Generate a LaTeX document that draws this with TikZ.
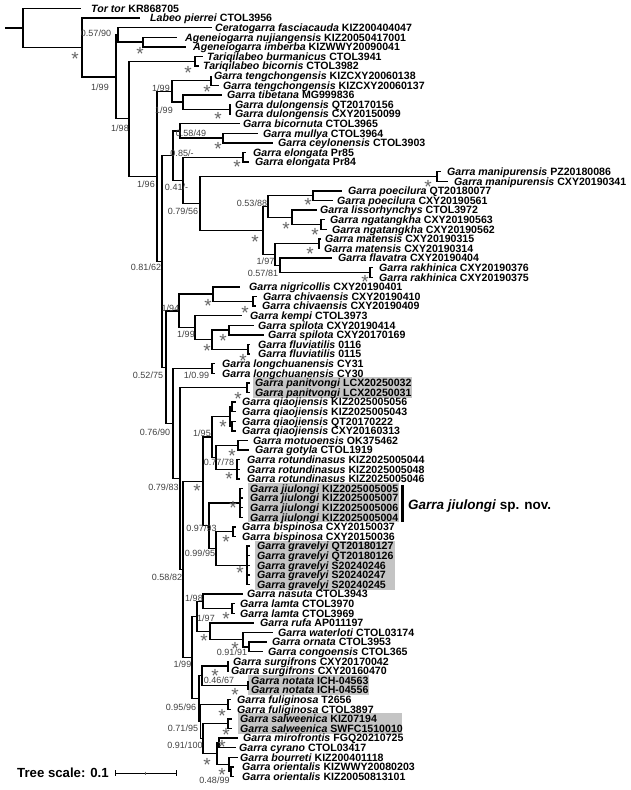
\documentclass[tikz,border=0pt]{standalone}
\usepackage{fontspec}
\setmainfont{Liberation Sans}
\begin{document}
\begin{tikzpicture}[x=1pt,y=-1pt,
  brs/.style={line width=1.3pt, line join=miter},
  lab/.style={anchor=base west, inner sep=0, font=\fontsize{10.6}{12}\selectfont\bfseries, yshift=-3.8pt},
  sup/.style={anchor=base, inner sep=0, font=\fontsize{9}{10}\selectfont, text=black!75, yshift=-3.2pt},
  astn/.style={anchor=base, inner sep=0, font=\fontsize{19}{19}\selectfont, text=black!60, yshift=-10.5pt},
  shade/.style={fill=black!23, draw=none}]
\useasboundingbox (0,0) rectangle (630,790);
% shaded boxes
\fill[shade] (253,377.4) rectangle (412,397.5);
\fill[shade] (248,483) rectangle (399,522.3);
\fill[shade] (255,540.6) rectangle (395,589.5);
\fill[shade] (248,675) rectangle (369,695);
\fill[shade] (238,713.4) rectangle (402,733.5);
% internal node coordinates
\coordinate (R0) at (5,28);
\coordinate (R) at (23,28);
\coordinate (N1) at (82,47.5);
\coordinate (N2) at (116,76.85);
\coordinate (CA) at (118,34.9);
\coordinate (AG) at (143,42.1);
\coordinate (N3) at (129,118.8);
\coordinate (TQ) at (195,61.3);
\coordinate (N4) at (157,176.35);
\coordinate (N5) at (172,91.3);
\coordinate (TC) at (211,80.5);
\coordinate (TD) at (183,102.1);
\coordinate (DU) at (230,109.3);
\coordinate (N6) at (162,261.4);
\coordinate (N7) at (173,155.65);
\coordinate (A) at (180,130.9);
\coordinate (MCa) at (223,138.1);
\coordinate (E) at (183,180.4);
\coordinate (EL) at (243,157.3);
\coordinate (B) at (200,203.5);
\coordinate (MP) at (437,176.5);
\coordinate (C) at (263,230.5);
\coordinate (P) at (268,206.5);
\coordinate (PO) at (313,195.7);
\coordinate (L) at (292,217.3);
\coordinate (NG) at (321,224.5);
\coordinate (M) at (275,254.5);
\coordinate (MA) at (319,243.7);
\coordinate (RR) at (280,265.3);
\coordinate (RK) at (370,272.5);
\coordinate (N8) at (166,367.2);
\coordinate (Q) at (179,310.9);
\coordinate (NC) at (213,294.1);
\coordinate (CH) at (253,301.3);
\coordinate (K) at (195,327.7);
\coordinate (SF) at (212,339.7);
\coordinate (SP) at (229,330.1);
\coordinate (FL) at (248,349.3);
\coordinate (N9) at (173,423.5);
\coordinate (LC) at (212,368.5);
\coordinate (N10) at (180,478.55);
\coordinate (PA) at (247,387.7);
\coordinate (N11) at (183,569.4);
\coordinate (J) at (203,481.3);
\coordinate (J1) at (212,436.9);
\coordinate (QJ) at (230,416.5);
\coordinate (QJa) at (232,406.9);
\coordinate (QJb) at (232,426.1);
\coordinate (MGR) at (216,457.3);
\coordinate (MG) at (238,445.3);
\coordinate (RT) at (237,469.3);
\coordinate (J2) at (209,525.7);
\coordinate (JL) at (240,502.9);
\coordinate (BG) at (216,548.5);
\coordinate (BS) at (233,531.7);
\coordinate (GR) at (247,565.3);
\coordinate (Y) at (192,657.5);
\coordinate (X) at (197,616.3);
\coordinate (NL) at (203,601.3);
\coordinate (LA) at (232,608.5);
\coordinate (RW) at (210,631.3);
\coordinate (WOC) at (243,639.7);
\coordinate (OC) at (249,646.9);
\coordinate (Z) at (199,698.65);
\coordinate (SN) at (202,675.7);
\coordinate (SU) at (228,666.1);
\coordinate (NO) at (248,685.3);
\coordinate (L2) at (200.5,721.6);
\coordinate (FU) at (228,704.5);
\coordinate (SM) at (203,738.7);
\coordinate (SW) at (228,723.7);
\coordinate (MB) at (217,753.7);
\coordinate (MCb) at (219,742.9);
\coordinate (BO) at (229,764.5);
\coordinate (OR) at (231,771.7);
% tips: name/end x/y/label x/genus-species/code
\foreach \n/\ex/\yy/\lx/\sp/\cd in {
 t1/81/8.5/91/Tor tor/KR868705,
 t2/140/18.1/150/Labeo pierrei/CTOL3956,
 t3/212/27.7/215/Ceratogarra fasciacauda/KIZ200404047,
 t4/177/37.3/185/Ageneiogarra nujiangensis/KIZ20050417001,
 t5/186/46.9/193/Ageneiogarra imberba/KIZWWY20090041,
 t6/203/56.5/207/Tariqilabeo burmanicus/CTOL3941,
 t7/199/66.1/203/Tariqilabeo bicornis/CTOL3982,
 t8/211/75.7/214/Garra tengchongensis/KIZCXY20060138,
 t9/219/85.3/223/Garra tengchongensis/KIZCXY20060137,
 t10/222/94.9/227/Garra tibetana/MG999836,
 t11/231/104.5/235/Garra dulongensis/QT20170156,
 t12/231/114.1/235/Garra dulongensis/CXY20150099,
 t13/240/123.7/243/Garra bicornuta/CTOL3965,
 t14/258/133.3/263/Garra mullya/CTOL3964,
 t15/273/142.9/278/Garra ceylonensis/CTOL3903,
 t16/246/152.5/253/Garra elongata/Pr85,
 t17/249/162.1/255/Garra elongata/Pr84,
 t18/441/171.7/447/Garra manipurensis/PZ20180086,
 t19/448/181.3/454/Garra manipurensis/CXY20190341,
 t20/342/190.9/348/Garra poecilura/QT20180077,
 t21/333/200.5/337/Garra poecilura/CXY20190561,
 t22/317/210.1/320/Garra lissorhynchys/CTOL3972,
 t23/325/219.7/330/Garra ngatangkha/CXY20190563,
 t24/327/229.3/332/Garra ngatangkha/CXY20190562,
 t25/321/238.9/325/Garra matensis/CXY20190315,
 t26/320/248.5/324/Garra matensis/CXY20190314,
 t27/332/258.1/338/Garra flavatra/CXY20190404,
 t28/373/267.7/379/Garra rakhinica/CXY20190376,
 t29/373/277.3/379/Garra rakhinica/CXY20190375,
 t30/240/286.9/249/Garra nigricollis/CXY20190401,
 t31/257/296.5/263/Garra chivaensis/CXY20190410,
 t32/256/306.1/262/Garra chivaensis/CXY20190409,
 t33/242/315.7/250/Garra kempi/CTOL3973,
 t34/254/325.3/258/Garra spilota/CXY20190414,
 t35/264/334.9/268/Garra spilota/CXY20170169,
 t36/250/344.5/258/Garra fluviatilis/0116,
 t37/250/354.1/258/Garra fluviatilis/0115,
 t38/215/363.7/222/Garra longchuanensis/CY31,
 t39/215/373.3/222/Garra longchuanensis/CY30,
 t40/250/382.9/255/Garra panitvongi/LCX20250032,
 t41/250/392.5/255/Garra panitvongi/LCX20250031,
 t42/236/402.1/242/Garra qiaojiensis/KIZ2025005056,
 t43/236/411.7/242/Garra qiaojiensis/KIZ2025005043,
 t44/236/421.3/242/Garra qiaojiensis/QT20170222,
 t45/236/430.9/242/Garra qiaojiensis/CXY20160313,
 t46/248/440.5/253/Garra motuoensis/OK375462,
 t47/249/450.1/255/Garra gotyla/CTOL1919,
 t48/240/459.7/247/Garra rotundinasus/KIZ2025005044,
 t49/240/469.3/247/Garra rotundinasus/KIZ2025005048,
 t50/240/478.9/247/Garra rotundinasus/KIZ2025005046,
 t51/243/488.5/250/Garra jiulongi/KIZ2025005005,
 t52/243/498.1/250/Garra jiulongi/KIZ2025005007,
 t53/243/507.7/250/Garra jiulongi/KIZ2025005006,
 t54/243/517.3/250/Garra jiulongi/KIZ2025005004,
 t55/236/526.9/242/Garra bispinosa/CXY20150037,
 t56/236/536.5/242/Garra bispinosa/CXY20150036,
 t57/250/546.1/257/Garra gravelyi/QT20180127,
 t58/250/555.7/257/Garra gravelyi/QT20180126,
 t59/250/565.3/257/Garra gravelyi/S20240246,
 t60/250/574.9/257/Garra gravelyi/S20240247,
 t61/250/584.5/257/Garra gravelyi/S20240245,
 t62/243/594.1/247/Garra nasuta/CTOL3943,
 t63/235/603.7/240/Garra lamta/CTOL3970,
 t64/235/613.3/240/Garra lamta/CTOL3969,
 t65/254/622.9/260/Garra rufa/AP011197,
 t66/273/632.5/278/Garra waterloti/CTOL03174,
 t67/267/642.1/272/Garra ornata/CTOL3953,
 t68/263/651.7/268/Garra congoensis/CTOL365,
 t69/229/661.3/233/Garra surgifrons/CXY20170042,
 t70/228.5/670.9/231/Garra surgifrons/CXY20160470,
 t71/248/680.5/251/Garra notata/ICH-04563,
 t72/248/690.1/251/Garra notata/ICH-04556,
 t73/231/699.7/237/Garra fuliginosa/T2656,
 t74/231/709.3/237/Garra fuliginosa/CTOL3897,
 t75/232/718.9/240/Garra salweenica/KIZ07194,
 t76/232/728.5/240/Garra salweenica/SWFC1510010,
 t77/238/738.1/243/Garra mirofrontis/FGQ20210725,
 t78/236/747.7/239/Garra cyrano/CTOL03417,
 t79/238/757.3/240/Garra bourreti/KIZ200401118,
 t80/234/766.9/242/Garra orientalis/KIZWWY20080203,
 t81/234/776.5/242/Garra orientalis/KIZ20050813101}
{
 \coordinate (\n) at (\ex,\yy);
 \node[lab] (l\n) at (\lx,\yy) {\textit{\sp} \cd};
}
% branches
\draw[brs] (R0) -- (R);
\foreach \p/\c in {R/t1,R/N1,N1/t2,N1/N2,N2/CA,N2/N3,CA/t3,CA/AG,AG/t4,AG/t5,
 N3/TQ,N3/N4,TQ/t6,TQ/t7,N4/N5,N4/N6,N5/TC,N5/TD,TC/t8,TC/t9,TD/t10,TD/DU,DU/t11,DU/t12,
 N6/N7,N6/N8,N7/A,N7/E,A/t13,A/MCa,MCa/t14,MCa/t15,E/EL,E/B,EL/t16,EL/t17,B/MP,B/C,
 MP/t18,MP/t19,C/P,C/M,P/PO,P/L,PO/t20,PO/t21,L/t22,L/NG,NG/t23,NG/t24,M/MA,M/RR,
 MA/t25,MA/t26,RR/t27,RR/RK,RK/t28,RK/t29,N8/Q,N8/N9,Q/NC,Q/K,NC/t30,NC/CH,CH/t31,CH/t32,
 K/t33,K/SF,SF/SP,SF/FL,SP/t34,SP/t35,FL/t36,FL/t37,N9/LC,N9/N10,LC/t38,LC/t39,
 N10/PA,N10/N11,PA/t40,PA/t41,N11/J,N11/Y,J/J1,J/J2,J1/QJ,J1/MGR,QJ/QJa,QJ/QJb,
 QJa/t42,QJa/t43,QJb/t44,QJb/t45,MGR/MG,MGR/RT,MG/t46,MG/t47,RT/t48,RT/t49,RT/t50,
 J2/JL,J2/BG,JL/t51,JL/t52,JL/t53,JL/t54,BG/BS,BG/GR,BS/t55,BS/t56,
 GR/t57,GR/t58,GR/t59,GR/t60,GR/t61,Y/X,Y/Z,X/NL,X/RW,NL/t62,NL/LA,LA/t63,LA/t64,
 RW/t65,RW/WOC,WOC/t66,WOC/OC,OC/t67,OC/t68,Z/SN,Z/L2,SN/SU,SN/NO,SU/t69,SU/t70,
 NO/t71,NO/t72,L2/FU,L2/SM,FU/t73,FU/t74,SM/SW,SM/MB,SW/t75,SW/t76,MB/MCb,MB/BO,
 MCb/t77,MCb/t78,BO/t79,BO/OR,OR/t80,OR/t81}
 \draw[brs] (\p) |- (\c);
% support values
\foreach \i/\xx/\yy/\tx in {1/96/33/0.57\slash 90, 2/100/87/1\slash 99, 3/120/128/1\slash 98,
 4/161/88/1\slash 99, 5/164/110/1\slash 99, 6/191/133/0.58\slash 49, 7/146/184/1\slash 96,
 8/182/153/0.85\slash -, 9/176.5/187/0.41\slash -, 10/183/211/0.79\slash 56,
 11/252/203/0.53\slash 88, 12/265.5/261/1\slash 97, 13/263/273/0.57\slash 81,
 14/146/267/0.81\slash 62, 15/170.5/308/1\slash 94, 16/186/334/1\slash 99,
 17/148/375/0.52\slash 75, 18/196.5/375/1\slash 0.99, 19/155/432/0.76\slash 90,
 20/202/433/1\slash 95, 21/219/462/0.77\slash 78, 22/163.5/487/0.79\slash 83,
 23/201.5/528/0.97\slash 93, 24/200/553/0.99\slash 95, 25/167/577/0.58\slash 82,
 26/194/598/1\slash 98, 27/206/618/1\slash 97, 28/232/652/0.91\slash 91,
 29/182.5/664/1\slash 99, 30/219/680/0.46\slash 67, 31/181/707/0.95\slash 96,
 32/183/728/0.71\slash 95, 33/185/745/0.91\slash 100, 34/214.5/780/0.48\slash 99}
 \node[sup] (sv\i) at (\xx,\yy) {\tx};
% asterisks
\foreach \i/\xx/\yy in {1/75/55, 2/140/50, 3/188/69, 4/207/88, 5/218/115, 6/218/145,
 7/237/163, 8/428/183, 9/308/201, 10/286/225, 11/315/231, 12/255/238, 13/310/250,
 14/365/278, 15/208/302, 16/245/309, 17/223/337, 18/207/347, 19/243/357, 20/238/395,
 21/223/423, 22/232/452, 23/229/475, 24/197/487, 25/233/504, 26/226/538, 27/240/569,
 28/226/615, 29/204/637, 30/235/645, 31/215/672, 32/235/691, 33/222/712, 34/226/731,
 35/222/743, 36/207/761, 37/222/771}
 \node[astn] (as\i) at (\xx,\yy) {*};
% species bar and name
\coordinate (bar1) at (402.5,485);
\coordinate (bar2) at (402.5,521.5);
\draw[line width=3pt] (bar1) -- (bar2);
\node[anchor=base west, inner sep=0, font=\fontsize{13.5}{15}\selectfont\bfseries] (spnov) at (408,509.8) {\textit{Garra jiulongi} sp. nov.};
% scale bar
\node[anchor=base west, inner sep=0, font=\fontsize{13.2}{15}\selectfont\bfseries] (tsc) at (17,777.7) {Tree scale: 0.1};
\coordinate (sb1) at (115,773);
\coordinate (sb2) at (176,773);
\coordinate (sbm) at (145.5,773);
\draw[line width=0.9pt] (sb1) -- (sb2);
\draw[line width=0.9pt] ([yshift=3pt]sb1) -- ([yshift=-3pt]sb1);
\draw[line width=0.9pt] ([yshift=3pt]sb2) -- ([yshift=-3pt]sb2);
\draw[line width=0.6pt, black!60] ([yshift=1.5pt]sbm) -- ([yshift=-1.5pt]sbm);
\end{tikzpicture}
\end{document}
